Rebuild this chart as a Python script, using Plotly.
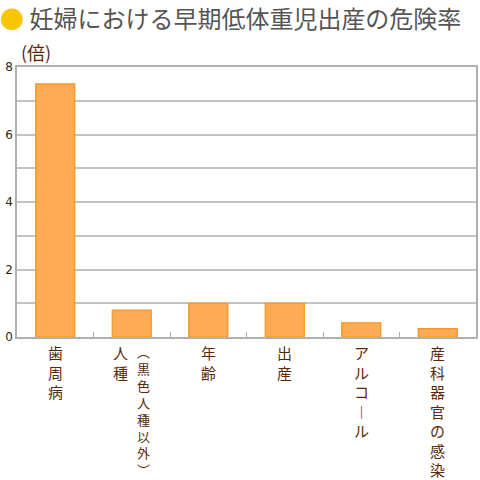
import plotly.graph_objects as go

# ── data ────────────────────────────────────────────
categories = ["歯周病", "人種(黒色人種以外)", "年齢", "出産", "アルコール", "産科器官の感染"]
# vertical label columns (left to right) for each category
label_columns = [
    ["歯周病"],
    ["人種", "︵黒色人種以外︶"],
    ["年齢"],
    ["出産"],
    ["アルコ︱ル"],
    ["産科器官の感染"],
]
risk_ratio = [7.5, 0.8, 1.0, 1.0, 0.42, 0.25]
y_tick_vals = [0, 2, 4, 6, 8]

TITLE = "妊婦における早期低体重児出産の危険率"
UNIT = "(倍)"

FONT = "Noto Sans CJK JP"
BROWN = "#5a2a08"
GRID = "#c4c4c4"

x_pos = list(range(len(categories)))

fig = go.Figure()
fig.add_trace(go.Bar(
    x=x_pos, y=risk_ratio,
    width=0.51,
    marker=dict(color="#FFAA55", line=dict(color="#F7941D", width=1.2)),
    hovertext=categories,
    showlegend=False,
))

# vertical category labels, one glyph per line (long columns a bit smaller)
for i, cols in enumerate(label_columns):
    n = len(cols)
    for j, col in enumerate(cols):
        size = 15 if len(col) <= 7 else 13
        fig.add_annotation(
            x=x_pos[i], y=0, xref="x", yref="paper",
            text="<br>".join(col),
            showarrow=False, xanchor="center", yanchor="top",
            xshift=(j - (n - 1) / 2) * 23, yshift=-3,
            align="center",
            font=dict(family=FONT, size=size, color=BROWN),
        )

# title with yellow dot
fig.add_annotation(
    x=0, y=1, xref="paper", yref="paper",
    text="<span style='color:#F7C600'>●</span> " + TITLE,
    showarrow=False, xanchor="left", yanchor="middle",
    xshift=-19, yshift=50,
    font=dict(family=FONT, size=24, color="#555555"),
)
fig.add_annotation(
    x=0, y=1, xref="paper", yref="paper",
    text=UNIT, showarrow=False, xanchor="left", yanchor="middle",
    xshift=2, yshift=15,
    font=dict(family=FONT, size=18, color=BROWN),
)

fig.update_xaxes(
    range=[-0.5, len(categories) - 0.5],
    tickvals=[v + 0.5 for v in x_pos[:-1]],
    ticks="inside", ticklen=5, tickcolor="#aaaaaa", tickwidth=1.2,
    showticklabels=False, showgrid=False, zeroline=False,
    showline=True, linecolor="#b0b0b0", linewidth=1.5, mirror=True,
)
fig.update_yaxes(
    range=[0, 8], tickvals=y_tick_vals,
    showgrid=True, gridcolor=GRID, gridwidth=1.5,
    minor=dict(dtick=1, showgrid=True, gridcolor=GRID, gridwidth=1.5),
    zeroline=False, ticks="",
    showline=True, linecolor="#b0b0b0", linewidth=1.5, mirror=True,
    tickfont=dict(family="DejaVu Sans", size=12, color="#3a2410"),
)

fig.update_layout(
    width=480, height=480,
    margin=dict(l=17, r=2, t=67, b=143),
    paper_bgcolor="white", plot_bgcolor="white",
    bargap=0.49,
)

# drop the default 8px page margin so the chart sits at the window corner
fig.write_html("out.html", config={"displayModeBar": False},
               post_script="document.body.style.margin='0';")
